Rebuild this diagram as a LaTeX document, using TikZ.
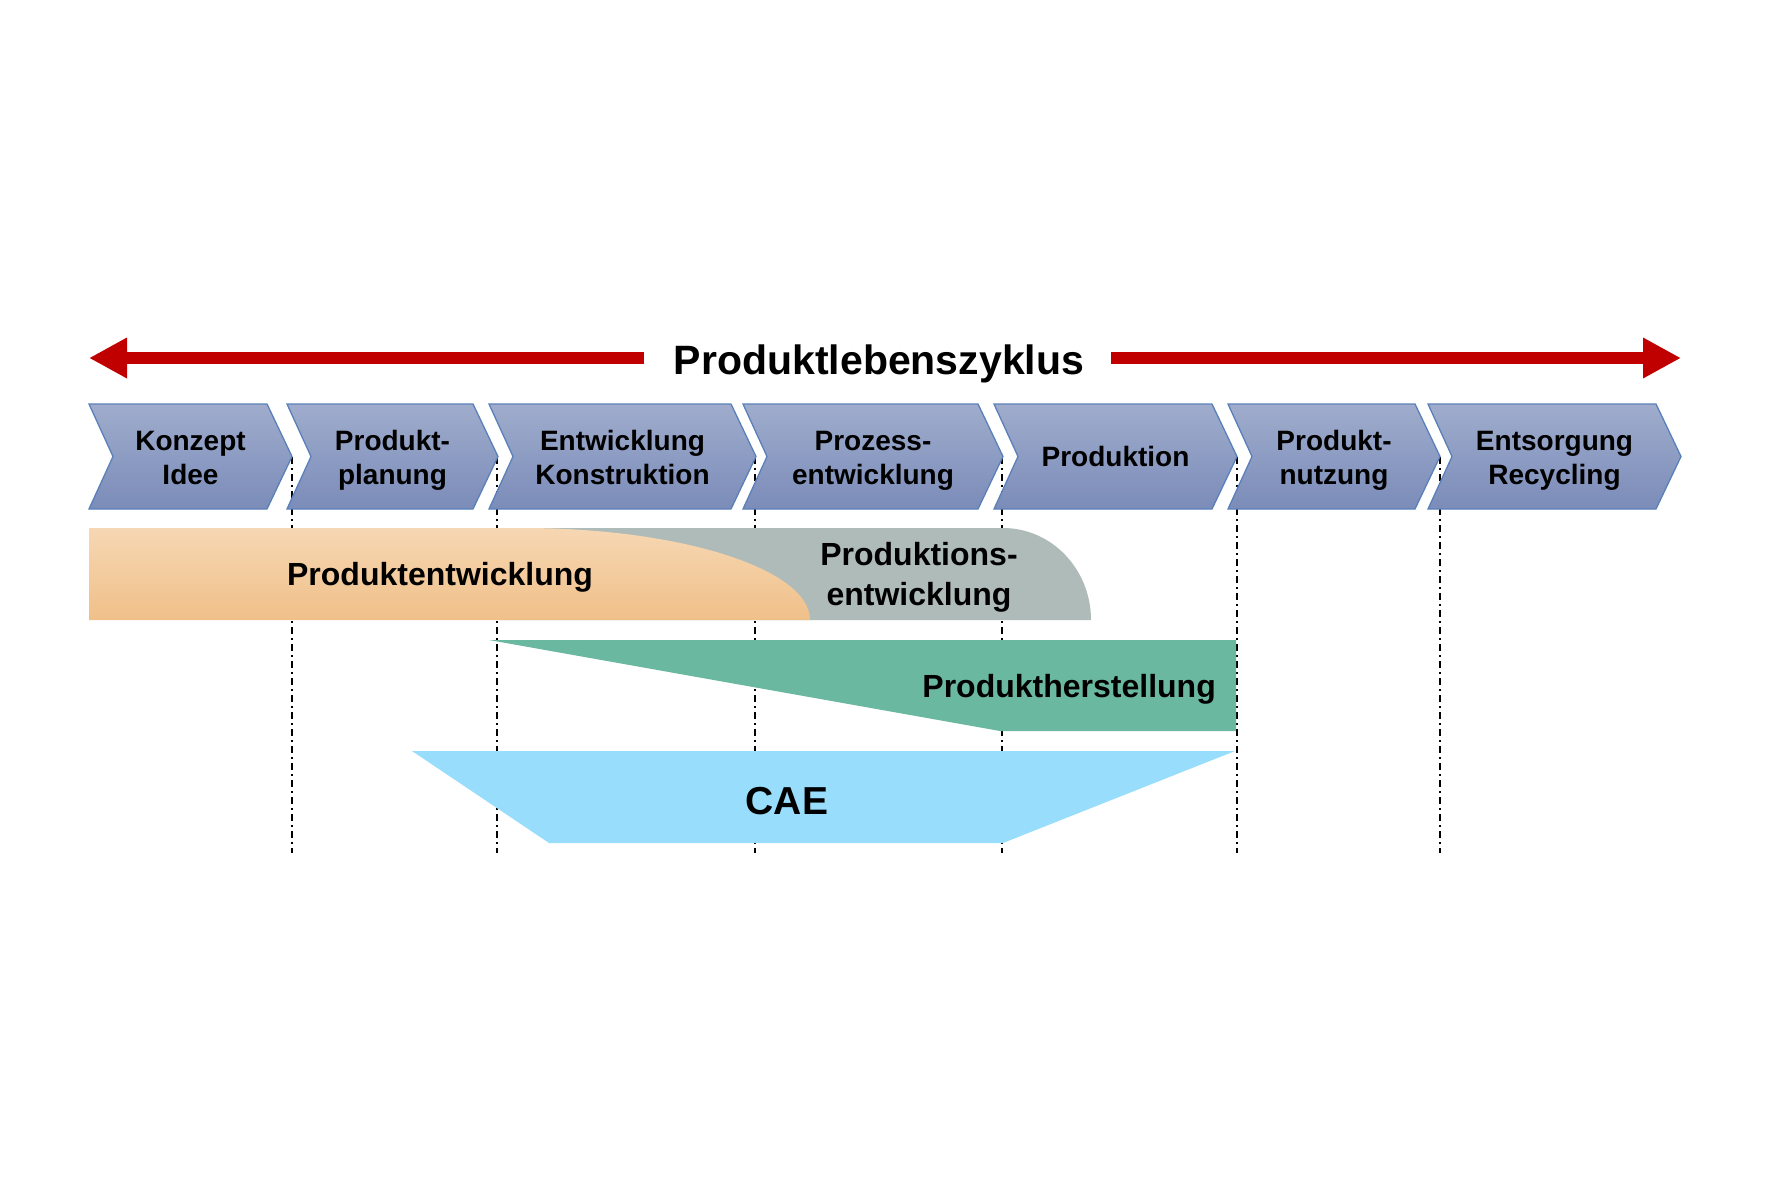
\documentclass[tikz,border=0pt]{standalone}
\usepackage{fontspec}
\setmainfont{Liberation Sans}
\usetikzlibrary{arrows.meta}
\definecolor{lifered}{HTML}{C00000}
\definecolor{chevtop}{HTML}{9FACCC}
\definecolor{chevbot}{HTML}{7B8CB9}
\definecolor{chevline}{HTML}{5A80BA}
\definecolor{orangetop}{HTML}{F6D7B3}
\definecolor{orangebot}{HTML}{F0C089}
\definecolor{grayband}{HTML}{AFBBB8}
\definecolor{greenband}{HTML}{6AB89F}
\definecolor{blueband}{HTML}{98DEFC}
\newcommand\chph{\vphantom{Pd}}
\newcommand\chpd{\vphantom{g}}
\begin{document}
\begin{tikzpicture}[x=1pt,y=-1pt,
  chev/.style={draw=chevline,line width=1.3pt,top color=chevtop,bottom color=chevbot,line join=miter},
  chevtext/.style={align=center,inner sep=0pt,font=\fontsize{28}{34}\selectfont\bfseries},
  bandtext/.style={align=center,inner sep=0pt,font=\fontsize{32}{40}\selectfont\bfseries},
  guide/.style={draw=black,line width=1.8pt,dash pattern=on 7pt off 4pt on 2pt off 4pt},
  lifearrow/.style={draw=lifered,line width=12pt,-{Triangle[length=38pt,width=38pt]}}]
\useasboundingbox (0,0) rectangle (1771,1180);
\fill[white] (0,0) rectangle (1771,1180);

% guide lines
\foreach \gx in {292,497,755,1002,1237,1440}
  \draw[guide] (\gx,457) -- (\gx,853);

% title and life-cycle arrow
\node[inner sep=0pt,anchor=base,font=\fontsize{41}{49}\selectfont\bfseries] (title) at (879,374) {Produktlebenszyklus};
\coordinate (lstart) at (644,358);
\coordinate (lend) at (89,358);
\coordinate (rstart) at (1111,358);
\coordinate (rend) at (1681,358);
\draw[lifearrow] (lstart) -- (lend);
\draw[lifearrow] (rstart) -- (rend);

% chevrons
\path[chev] (89,404) -- (267,404) -- (292,456.5) -- (267,509) -- (89,509) -- (113,456.5) -- cycle;
\path[chev] (287,404) -- (473,404) -- (498,456.5) -- (473,509) -- (287,509) -- (311,456.5) -- cycle;
\path[chev] (489,404) -- (731,404) -- (756,456.5) -- (731,509) -- (489,509) -- (513,456.5) -- cycle;
\path[chev] (743,404) -- (978,404) -- (1003,456.5) -- (978,509) -- (743,509) -- (767,456.5) -- cycle;
\path[chev] (994,404) -- (1212,404) -- (1237,456.5) -- (1212,509) -- (994,509) -- (1018,456.5) -- cycle;
\path[chev] (1228,404) -- (1415,404) -- (1440,456.5) -- (1415,509) -- (1228,509) -- (1252,456.5) -- cycle;
\path[chev] (1428,404) -- (1656,404) -- (1681,456.5) -- (1656,509) -- (1428,509) -- (1452,456.5) -- cycle;

\node[chevtext] (c1) at (190.5,460.3) {\chph Konzept\\Idee\chpd};
\node[chevtext] (c2) at (392.5,460.3) {\chph Produkt-\\planung\chpd};
\node[chevtext] (c3) at (622.5,460.3) {\chph Entwicklung\\Konstruktion\chpd};
\node[chevtext] (c4) at (873,460.3) {\chph Prozess-\\entwicklung\chpd};
\node[chevtext,anchor=base] (c5) at (1115.5,466) {Produktion};
\node[chevtext] (c6) at (1334,460.3) {\chph Produkt-\\nutzung\chpd};
\node[chevtext] (c7) at (1554.5,460.3) {\chph Entsorgung\\Recycling\chpd};

% bands
\fill[grayband] (500,528) -- (1003,528) .. controls (1051.6,528) and (1091,569.2) .. (1091,620) -- (500,620) -- cycle;
\path[top color=orangetop,bottom color=orangebot] (89,528) -- (523,528) .. controls (681.5,528) and (810,569.2) .. (810,620) -- (89,620) -- cycle;
\fill[greenband] (489,640) -- (1236,640) -- (1236,731) -- (1000,731) -- cycle;
\fill[blueband] (412,751) -- (1235,751) -- (1003,843) -- (549,843) -- cycle;

\node[bandtext,anchor=base] (pe) at (440,585) {Produktentwicklung};
\node[bandtext] (prode) at (919,577.5) {\chph Produktions-\\entwicklung\chpd};
\node[bandtext,anchor=base east] (ph) at (1216,697) {Produktherstellung};
\node[inner sep=0pt,anchor=base,font=\fontsize{39}{46}\selectfont\bfseries] (cae) at (787,814) {CAE};
\end{tikzpicture}
\end{document}
